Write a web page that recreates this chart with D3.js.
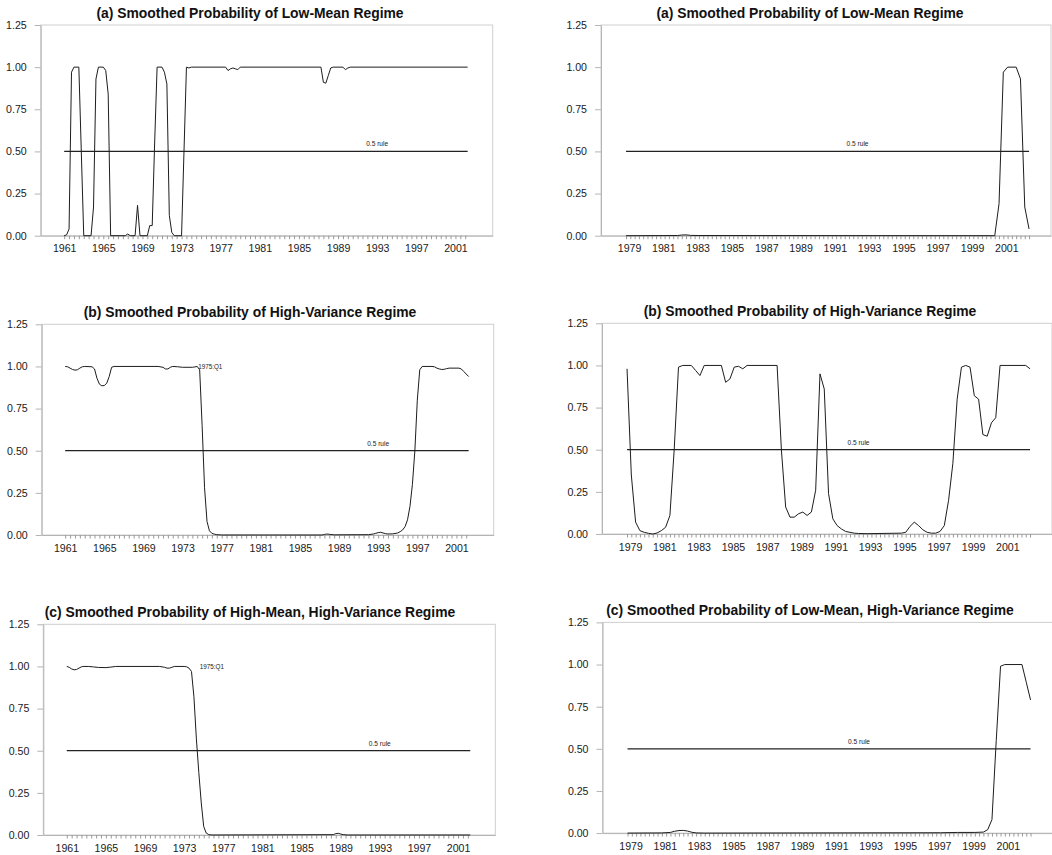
<!DOCTYPE html>
<html><head><meta charset="utf-8">
<script src="https://cdn.jsdelivr.net/npm/d3@7"></script>
<style>
html,body{margin:0;padding:0;background:#fff;}
svg{display:block;font-family:"Liberation Sans",Arial,Helvetica,sans-serif;}
</style></head><body>
<svg id="chart" width="1052" height="855"></svg>
<script>
// ---------------- data ----------------
const yTicks = [0, 0.25, 0.5, 0.75, 1.0, 1.25];
const yearLabelsLeft = [1961, 1965, 1969, 1973, 1977, 1981, 1985, 1989, 1993, 1997, 2001];
const yearLabelsRight = [1979, 1981, 1983, 1985, 1987, 1989, 1991, 1993, 1995, 1997, 1999, 2001];
const sampleLeft = ["1961Q1", "2002Q2"];
const sampleRight = ["1979Q1", "2002Q3"];
const ruleValue = 0.5;
const ruleLabel = "0.5 rule";
const ruleLabelDateLeft = 1993.0;
const ruleLabelDateRight = 1992.5;
const breakLabel = "1975:Q1";
const breakLabelDate = 1974.6;

const titlesLeft = [
  "(a) Smoothed Probability of Low-Mean Regime",
  "(b) Smoothed Probability of High-Variance Regime",
  "(c) Smoothed Probability of High-Mean, High-Variance Regime"
];
const titlesRight = [
  "(a) Smoothed Probability of Low-Mean Regime",
  "(b) Smoothed Probability of High-Variance Regime",
  "(c) Smoothed Probability of Low-Mean, High-Variance Regime"
];

// Left column, panel (a)
const lowMeanLeft = [
  ["1961Q1",0.00],["1961Q2",0.005],["1961Q3",0.04],["1961Q4",0.97],["1962Q1",1.00],["1962Q3",1.00],
  ["1962Q4",0.50],["1963Q1",0.00],["1963Q4",0.00],["1964Q1",0.17],["1964Q2",0.93],["1964Q3",1.00],
  ["1965Q1",1.00],["1965Q2",0.98],["1965Q3",0.84],["1965Q4",0.00],["1967Q2",0.00],["1967Q3",0.01],
  ["1967Q4",0.00],["1968Q2",0.00],["1968Q3",0.18],["1968Q4",0.00],["1969Q3",0.00],["1969Q4",0.06],
  ["1970Q1",0.06],["1970Q2",0.55],["1970Q3",1.00],["1971Q1",1.00],["1971Q2",0.97],["1971Q3",0.90],
  ["1971Q4",0.12],["1972Q1",0.02],["1972Q2",0.00],["1973Q1",0.00],["1973Q2",0.50],["1973Q3",1.00],
  ["1973Q4",0.995],["1974Q1",1.00],["1977Q3",1.00],["1977Q4",0.98],["1978Q1",0.99],["1978Q2",0.995],
  ["1978Q3",0.99],["1978Q4",0.985],["1979Q1",1.00],["1987Q2",1.00],["1987Q3",0.91],["1987Q4",0.905],
  ["1988Q1",0.95],["1988Q2",0.995],["1988Q3",1.00],["1989Q3",1.00],["1989Q4",0.985],["1990Q1",0.995],
  ["1990Q2",1.00],["2002Q2",1.00]
];
// Left column, panel (b)
const highVarLeft = [
  ["1961Q1",1.00],["1961Q2",0.998],["1961Q3",0.99],["1961Q4",0.982],["1962Q1",0.978],["1962Q2",0.98],
  ["1962Q3",0.99],["1962Q4",0.998],["1963Q1",1.00],["1963Q4",0.998],["1964Q1",0.985],["1964Q2",0.93],
  ["1964Q3",0.895],["1964Q4",0.885],["1965Q1",0.887],["1965Q2",0.90],["1965Q3",0.94],["1965Q4",0.995],
  ["1966Q1",1.00],["1970Q3",1.00],["1971Q1",0.995],["1971Q2",0.985],["1971Q3",0.985],["1971Q4",0.995],
  ["1972Q1",1.00],["1972Q3",0.998],["1973Q1",0.995],["1974Q1",0.995],["1974Q2",0.997],["1974Q3",1.00],
  ["1974Q4",0.98],["1975Q1",0.65],["1975Q2",0.28],["1975Q3",0.08],["1975Q4",0.025],["1976Q1",0.01],
  ["1976Q2",0.005],["1976Q3",0.002],["1977Q1",0.00],["1987Q2",0.00],["1987Q3",0.003],["1987Q4",0.006],
  ["1988Q1",0.004],["1988Q3",0.001],["1992Q1",0.002],["1992Q3",0.006],["1992Q4",0.01],["1993Q1",0.014],
  ["1993Q2",0.016],["1993Q3",0.012],["1993Q4",0.008],["1994Q1",0.006],["1994Q3",0.007],["1995Q1",0.012],
  ["1995Q2",0.02],["1995Q3",0.03],["1995Q4",0.05],["1996Q1",0.09],["1996Q2",0.17],["1996Q3",0.30],
  ["1996Q4",0.50],["1997Q1",0.80],["1997Q2",0.98],["1997Q3",1.00],["1998Q3",1.00],["1998Q4",0.998],
  ["1999Q1",0.99],["1999Q2",0.985],["1999Q3",0.982],["1999Q4",0.983],["2000Q1",0.987],["2000Q2",0.99],
  ["2001Q2",0.99],["2001Q3",0.985],["2001Q4",0.97],["2002Q1",0.955],["2002Q2",0.94]
];
// Left column, panel (c)
const highMeanHighVarLeft = [
  ["1961Q1",1.00],["1961Q2",0.995],["1961Q3",0.985],["1961Q4",0.98],["1962Q1",0.982],["1962Q2",0.99],
  ["1962Q3",0.998],["1962Q4",1.00],["1963Q2",1.00],["1963Q4",0.997],["1964Q2",0.994],["1965Q1",0.993],
  ["1965Q3",0.996],["1966Q1",1.00],["1970Q3",1.00],["1971Q1",0.995],["1971Q2",0.99],["1971Q3",0.99],
  ["1971Q4",0.995],["1972Q1",1.00],["1973Q1",1.00],["1973Q2",0.998],["1973Q3",0.99],["1973Q4",0.97],
  ["1974Q1",0.82],["1974Q2",0.57],["1974Q3",0.37],["1974Q4",0.19],["1975Q1",0.05],["1975Q2",0.012],
  ["1975Q3",0.003],["1975Q4",0.00],["1988Q2",0.002],["1988Q3",0.008],["1988Q4",0.01],["1989Q1",0.006],
  ["1989Q2",0.002],["1989Q4",0.00],["2002Q2",0.00]
];
// Right column, panel (a)
const lowMeanRight = [
  ["1979Q1",0.00],["1982Q1",0.001],["1982Q2",0.004],["1982Q3",0.005],["1982Q4",0.002],["1983Q2",0.001],
  ["2000Q3",0.00],["2000Q4",0.19],["2001Q1",0.97],["2001Q2",1.00],["2001Q4",1.00],["2002Q1",0.93],
  ["2002Q2",0.17],["2002Q3",0.04]
];
// Right column, panel (b)
const highVarRight = [
  ["1979Q1",0.98],["1979Q2",0.35],["1979Q3",0.07],["1979Q4",0.02],["1980Q1",0.01],["1980Q2",0.004],
  ["1980Q3",0.00],["1980Q4",0.006],["1981Q1",0.02],["1981Q2",0.04],["1981Q3",0.11],["1981Q4",0.50],
  ["1982Q1",0.99],["1982Q2",1.00],["1982Q4",1.00],["1983Q1",0.97],["1983Q2",0.94],["1983Q3",1.00],
  ["1984Q3",1.00],["1984Q4",0.90],["1985Q1",0.92],["1985Q2",0.99],["1985Q3",0.995],["1985Q4",0.98],
  ["1986Q1",1.00],["1987Q4",1.00],["1988Q1",0.50],["1988Q2",0.16],["1988Q3",0.10],["1988Q4",0.10],
  ["1989Q1",0.12],["1989Q2",0.13],["1989Q3",0.11],["1989Q4",0.13],["1990Q1",0.26],["1990Q2",0.95],
  ["1990Q3",0.86],["1990Q4",0.24],["1991Q1",0.09],["1991Q2",0.05],["1991Q3",0.03],["1991Q4",0.015],
  ["1992Q1",0.01],["1992Q2",0.005],["1992Q3",0.003],["1993Q1",0.002],["1995Q1",0.005],["1995Q2",0.01],
  ["1995Q3",0.045],["1995Q4",0.07],["1996Q1",0.05],["1996Q2",0.025],["1996Q3",0.01],["1996Q4",0.005],
  ["1997Q1",0.005],["1997Q2",0.015],["1997Q3",0.05],["1997Q4",0.20],["1998Q1",0.42],["1998Q2",0.80],
  ["1998Q3",0.99],["1998Q4",1.00],["1999Q1",0.99],["1999Q2",0.82],["1999Q3",0.80],["1999Q4",0.59],
  ["2000Q1",0.58],["2000Q2",0.66],["2000Q3",0.69],["2000Q4",1.00],["2002Q2",1.00],["2002Q3",0.98]
];
// Right column, panel (c)
const lowMeanHighVarRight = [
  ["1979Q1",0.00],["1981Q1",0.001],["1981Q3",0.004],["1981Q4",0.011],["1982Q1",0.015],["1982Q2",0.016],
  ["1982Q3",0.012],["1982Q4",0.005],["1983Q1",0.001],["1983Q3",0.00],["1997Q2",0.002],["1998Q2",0.004],
  ["1999Q2",0.004],["1999Q4",0.006],["2000Q1",0.02],["2000Q2",0.08],["2000Q3",0.55],["2000Q4",0.99],
  ["2001Q1",1.00],["2002Q1",1.00],["2002Q2",0.895],["2002Q3",0.79]
];

// ---------------- layout ----------------
const qToYear = q => +q.slice(0, 4) + (+q.slice(5) - 1) / 4;
const leftCol = { domain: [1958.6, 2004.81], width: 452, lefts: [40.7, 41.7, 43.3],
  tops: [25, 324.3, 624.3], titleX: 250, tickStep: 0.5, labels: yearLabelsLeft,
  sample: sampleLeft, ruleDate: ruleLabelDateLeft, labelShift: 0 };
const rightCol = { domain: [1977.54, 2003.78], width: 450, lefts: [601, 602, 602.5],
  tops: [25, 323.3, 622.4], titleX: 810, tickStep: 0.25, labels: yearLabelsRight,
  sample: sampleRight, ruleDate: ruleLabelDateRight, labelShift: 3 };
const plotH = 210.7;

const panels = [
  { col: leftCol, row: 0, title: titlesLeft[0], series: lowMeanLeft, note: false },
  { col: leftCol, row: 1, title: titlesLeft[1], series: highVarLeft, note: true },
  { col: leftCol, row: 2, title: titlesLeft[2], series: highMeanHighVarLeft, note: true },
  { col: rightCol, row: 0, title: titlesRight[0], series: lowMeanRight, note: false },
  { col: rightCol, row: 1, title: titlesRight[1], series: highVarRight, note: false },
  { col: rightCol, row: 2, title: titlesRight[2], series: lowMeanHighVarRight, note: false }
];

const svg = d3.select("#chart");
const axisGray = "#b4b4b4";
const ink = "#1d1d1d";

panels.forEach(p => {
  const c = p.col;
  const left = c.lefts[p.row], top = c.tops[p.row];
  const x = d3.scaleLinear().domain(c.domain).range([0, c.width]);
  const y = d3.scaleLinear().domain([0, 1.25]).range([plotH, 0]);
  const g = svg.append("g").attr("transform", `translate(${left},${top})`);

  // title
  svg.append("text").attr("x", c.titleX).attr("y", top - 7)
    .attr("text-anchor", "middle").attr("font-weight", "bold")
    .attr("font-size", "13.9px").attr("fill", "#111").text(p.title);

  // frame
  g.append("rect").attr("x", 0).attr("y", 0).attr("width", c.width).attr("height", plotH)
    .attr("fill", "none").attr("stroke", "#cfcfcf").attr("stroke-width", 1);

  // y axis
  const ya = g.append("g").call(d3.axisLeft(y).tickValues(yTicks)
      .tickFormat(d3.format(".2f")).tickSize(6).tickSizeOuter(0).tickPadding(8));
  ya.select(".domain").attr("stroke", axisGray);
  ya.selectAll(".tick line").attr("stroke", axisGray);
  ya.selectAll("text").attr("font-size", "10.6px").attr("fill", "#1a1a1a")
    .attr("font-family", "'Liberation Sans',Arial,sans-serif");

  // x axis
  const s0 = qToYear(c.sample[0]), s1 = qToYear(c.sample[1]);
  const minor = d3.range(s0, s1 + 1e-6, c.tickStep);
  const labelSet = new Set(c.labels);
  const xa = g.append("g").attr("transform", `translate(0,${plotH})`)
    .call(d3.axisBottom(x).tickValues(minor).tickSize(3.5).tickSizeOuter(0).tickPadding(5.5)
      .tickFormat(d => labelSet.has(d) ? String(d) : ""));
  xa.select(".domain").attr("stroke", axisGray);
  xa.selectAll(".tick line").attr("stroke", "#9a9a9a");
  xa.selectAll("text").attr("font-size", "10.6px").attr("fill", "#1a1a1a")
    .attr("x", c.labelShift)
    .attr("font-family", "'Liberation Sans',Arial,sans-serif");

  // 0.5 rule
  const rule = [[s0, ruleValue], [s1, ruleValue]];
  g.append("path").datum(rule)
    .attr("d", d3.line().x(d => x(d[0])).y(d => y(d[1])))
    .attr("fill", "none").attr("stroke", "#222").attr("stroke-width", 1.3);
  g.append("text").attr("x", x(c.ruleDate)).attr("y", y(ruleValue) - 5)
    .attr("text-anchor", "middle").attr("font-size", "6.6px").attr("fill", "#222")
    .text(ruleLabel);

  // series
  const line = d3.line().x(d => x(qToYear(d[0]))).y(d => y(d[1]));
  g.append("path").datum(p.series).attr("d", line)
    .attr("fill", "none").attr("stroke", ink).attr("stroke-width", 1)
    .attr("stroke-linejoin", "round");

  if (p.note) {
    g.append("text").attr("x", x(breakLabelDate)).attr("y", y(1.0))
      .attr("dominant-baseline", "central").attr("font-size", "6.3px").attr("fill", "#222")
      .text(breakLabel);
  }
});
</script>
</body></html>
